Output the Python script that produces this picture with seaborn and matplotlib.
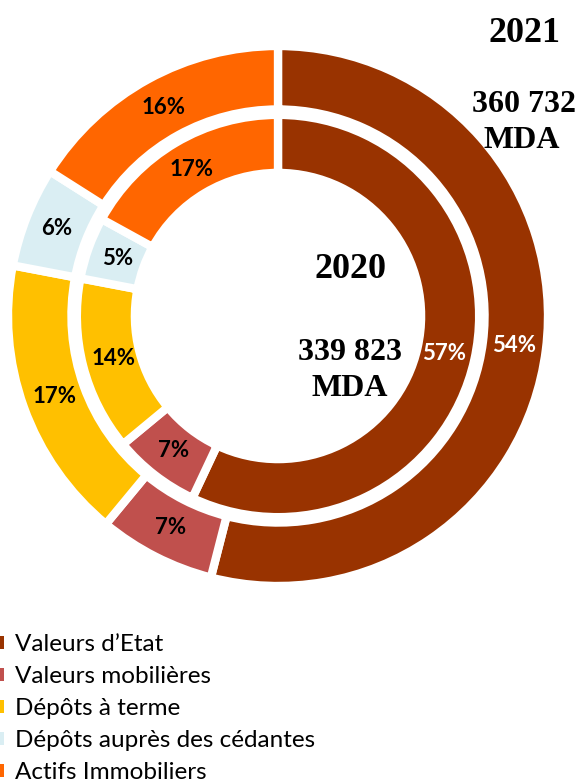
import matplotlib
matplotlib.use("Agg")
import matplotlib.pyplot as plt
import matplotlib.patches as mpatches
import numpy as np
import seaborn as sns

categories = ["Valeurs d\u2019Etat", "Valeurs mobilières", "Dépôts à terme",
              "Dépôts auprès des cédantes", "Actifs Immobiliers"]
values_2021 = [54, 7, 17, 6, 16]
values_2020 = [57, 7, 14, 5, 17]
colors = ["#993300", "#C0504D", "#FFC000", "#DAEEF3", "#FF6600"]
label_colors = ["white", "black", "black", "black", "black"]

sns.set_theme(style="white")
plt.rcParams["font.family"] = ["Lato", "DejaVu Sans"]
plt.rcParams["text.color"] = "black"

fig = plt.figure(figsize=(5.82, 7.83), dpi=100)
R = 270
cx, cy = 278, 316
ax = fig.add_axes([(cx - R) / 582, (783 - cy - R) / 783, 2 * R / 582, 2 * R / 783])
ax.set_aspect("equal")

wp = dict(edgecolor="white", linewidth=6)
ax.pie(values_2021, radius=1.0, colors=colors, startangle=90,
       counterclock=False, wedgeprops=dict(width=0.235, **wp))
ax.pie(values_2020, radius=0.745, colors=colors, startangle=90,
       counterclock=False, wedgeprops=dict(width=0.215, **wp))


def put_labels(vals, r):
    cum = 0
    total = sum(vals)
    for v, c in zip(vals, label_colors):
        mid = 90 - (cum + v / 2) / total * 360
        cum += v
        x, y = r * np.cos(np.radians(mid)), r * np.sin(np.radians(mid))
        ax.text(x, y, f"{v}%", ha="center", va="center", fontsize=16,
                fontweight="bold", color=c)


put_labels(values_2021, 0.88)
put_labels(values_2020, 0.63)

ax.set_xlim(-1, 1)
ax.set_ylim(-1, 1)
ax.axis("off")

serif = ["Liberation Serif", "DejaVu Serif"]
fig.text(524/582, 1 - 33/783, "2021", ha="center", va="center",
         fontsize=26, fontweight="bold", family=serif, color="black")
fig.text(524/582, 1 - 105/783, "360 732", ha="center", va="center",
         fontsize=23, fontweight="bold", family=serif, color="black")
fig.text(522/582, 1 - 140/783, "MDA", ha="center", va="center",
         fontsize=23, fontweight="bold", family=serif, color="black")
fig.text(350/582, 1 - 270/783, "2020", ha="center", va="center",
         fontsize=26, fontweight="bold", family=serif, color="black")
fig.text(350/582, 1 - 353/783, "339 823", ha="center", va="center",
         fontsize=23, fontweight="bold", family=serif, color="black")
fig.text(350/582, 1 - 388/783, "MDA", ha="center", va="center",
         fontsize=23, fontweight="bold", family=serif, color="black")

handles = [mpatches.Patch(facecolor=c, edgecolor="none") for c in colors]
leg = fig.legend(handles, categories, loc="upper left",
                 bbox_to_anchor=(-0.012, 1 - 634/783), frameon=False,
                 fontsize=17.5, handlelength=0.45, handleheight=0.45,
                 handletextpad=0.45, labelspacing=0.45, borderpad=0,
                 borderaxespad=0)
for t in leg.get_texts():
    t.set_color("black")

fig.savefig("out.png", dpi=100, facecolor="white")
